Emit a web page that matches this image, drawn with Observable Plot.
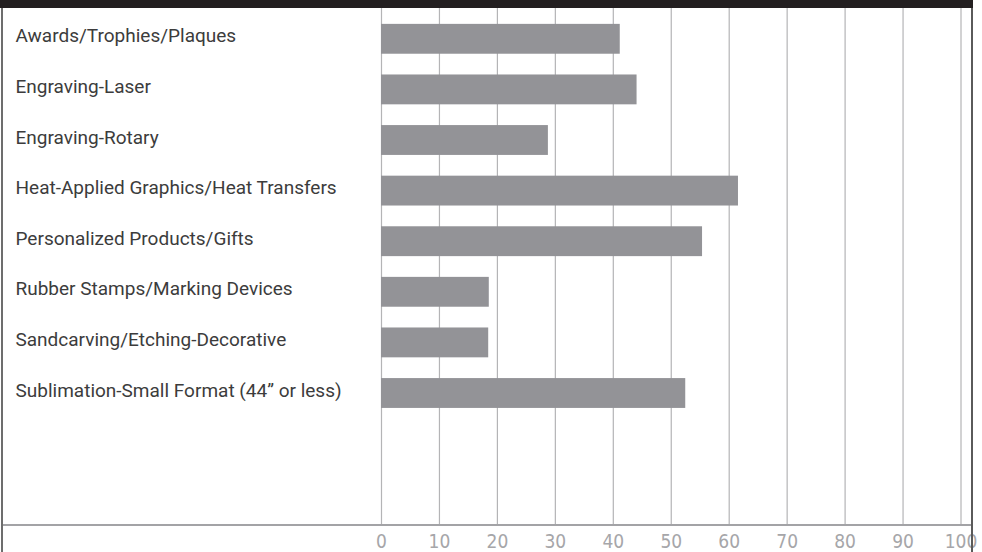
<!DOCTYPE html>
<html>
<head>
<meta charset="utf-8">
<script src="https://cdn.jsdelivr.net/npm/d3@7"></script>
<script src="https://cdn.jsdelivr.net/npm/@observablehq/plot@0.6"></script>
<style>
  html, body { margin: 0; padding: 0; background: #fff; }
  #wrap { position: relative; width: 982px; height: 552px; overflow: hidden; }
  #topband { position: absolute; left: 0; top: 0; width: 973px; height: 8px; background: #231f20; }
  #lborder { position: absolute; left: 1px; top: 8px; width: 2px; height: 544px; background: #6d6d6d; }
  #rborder { position: absolute; left: 971px; top: 8px; width: 2px; height: 544px; background: #5a5a5a; }
  #axisline { position: absolute; left: 3px; top: 524px; width: 968px; height: 2px; background: #a3a3a6; }
  #chart { position: absolute; left: 0; top: 8px; }
</style>
</head>
<body>
<div id="wrap">
  <div id="chart"></div>
  <div id="topband"></div>
  <div id="lborder"></div>
  <div id="rborder"></div>
  <div id="axisline"></div>
</div>
<script>
const categories = [
  "Awards/Trophies/Plaques",
  "Engraving-Laser",
  "Engraving-Rotary",
  "Heat-Applied Graphics/Heat Transfers",
  "Personalized Products/Gifts",
  "Rubber Stamps/Marking Devices",
  "Sandcarving/Etching-Decorative",
  "Sublimation-Small Format (44\u201d or less)"
];
const values = [41.2, 44.1, 28.8, 61.6, 55.4, 18.6, 18.5, 52.5];
const xTicks = [0, 10, 20, 30, 40, 50, 60, 70, 80, 90, 100];

const data = categories.map((c, i) => ({category: c, value: values[i]}));

const chart = Plot.plot({
  width: 982,
  height: 544,
  marginTop: 0,
  marginBottom: 27,
  marginLeft: 381,
  marginRight: 21.5,
  style: {fontFamily: '"DejaVu Sans Condensed", sans-serif', background: "transparent"},
  x: {domain: [0, 100], ticks: xTicks},
  y: {domain: categories, range: [5.5, 410.3], paddingInner: 0.41, paddingOuter: 0.205, round: false},
  marks: [
    Plot.gridX(xTicks, {stroke: "#b4b4b6", strokeOpacity: 1, strokeWidth: 1.2}),
    Plot.barX(data, {x: "value", y: "category", fill: "#939397"}),
    Plot.axisX({
      ticks: xTicks,
      tickSize: 0,
      tickPadding: 9,
      fontSize: 19,
      color: "#a6a6a9",
      label: null
    }),
    Plot.axisY({
      tickSize: 0,
      tickPadding: 0,
      textAnchor: "start",
      dx: -366,
      dy: -3,
      fontSize: 19,
      fontFamily: "Roboto, sans-serif",
      color: "#3c3c3c",
      label: null
    })
  ]
});
document.getElementById("chart").appendChild(chart);
</script>
</body>
</html>
